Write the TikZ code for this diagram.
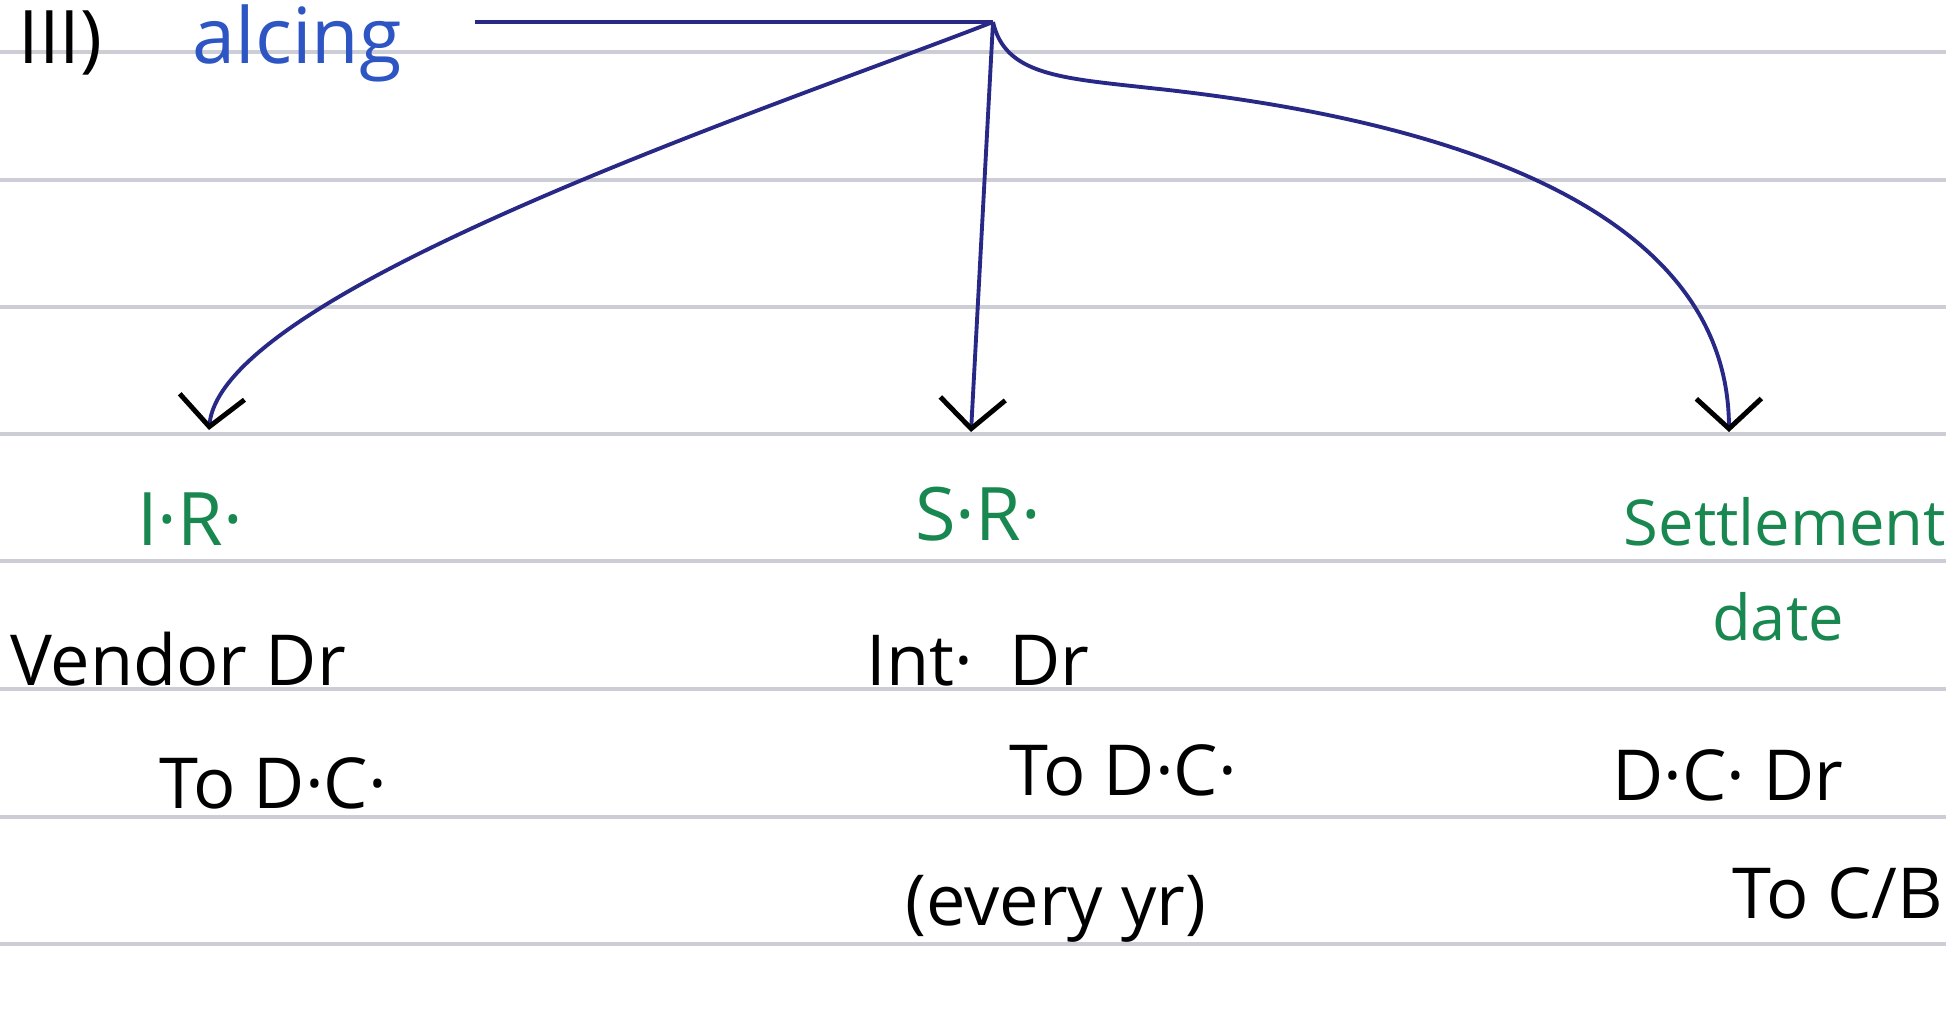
\documentclass[tikz,border=0pt]{standalone}
\usepackage{fontspec}
\setmainfont{Open Sans}
\usetikzlibrary{arrows.meta,positioning}
\definecolor{inknavy}{RGB}{40,40,135}
\definecolor{inkblue}{RGB}{45,85,195}
\definecolor{inkgreen}{RGB}{25,135,80}
\definecolor{ruling}{RGB}{205,205,214}

\begin{document}
\begin{tikzpicture}[x=0.01cm, y=-0.01cm,
    every node/.style={inner sep=0pt, anchor=base},
    case/.style={text=inkgreen, font=\fontsize{21}{25}\selectfont},
    entry/.style={text=black, font=\fontsize{20}{24}\selectfont},
    branch/.style={draw=inknavy, line width=1.1pt,
        -{Straight Barb[length=3mm, width=6.5mm, color=black, line width=1.4pt]}}]
    \useasboundingbox (0,0) rectangle (1946,1018);
    \clip (0,0) rectangle (1946,1018);
    % ruled paper
    \draw[ruling, line width=1.1pt] (0,52) -- (1946,52) (0,180) -- (1946,180)
        (0,307) -- (1946,307) (0,434) -- (1946,434) (0,561) -- (1946,561)
        (0,689) -- (1946,689) (0,817) -- (1946,817) (0,944) -- (1946,944);

    \node[anchor=base west, font=\fontsize{21}{25}\selectfont] (num) at (18,64) {III)};
    \node[anchor=base west, text=inkblue, font=\fontsize{22}{26}\selectfont] (title) at (192,64) {alcing};

    \coordinate (barstart) at (475,22);
    \coordinate (split) at (993,22);
    \coordinate (irtip) at (209,430);
    \coordinate (srtip) at (971,432);
    \coordinate (settip) at (1729,432);

    \node[case] (ir) at (190,545) {I·R·};
    \node[case] (sr) at (978,540) {S·R·};
    \node[case, font=\fontsize{18}{22}\selectfont] (settle) at (1785,545) {Settlement};
    \node[case, font=\fontsize{18}{22}\selectfont] (date) at (1778,640) {date};

    \node[entry] (vendor) at (178,685) {Vendor Dr};
    \node[entry] (irto) at (273,808) {To D·C·};
    \node[entry] (interest) at (978,685) {Int·~~Dr};
    \node[entry] (srto) at (1123,795) {To D·C·};
    \node[entry] (yearly) at (1056,925) {(every yr)};
    \node[entry] (dcdr) at (1728,800) {D·C· Dr};
    \node[entry] (setto) at (1838,918) {To C/B};

    \draw[inknavy, line width=1.1pt] (barstart) -- (split);
    \draw[branch] (split) .. controls (780,105) and (222,290) .. (irtip);
    \draw[branch] (split) -- (srtip);
    \draw[branch] (split) .. controls (1005,75) and (1060,78) .. (1150,88)
        .. controls (1500,125) and (1728,230) .. (settip);
\end{tikzpicture}
\end{document}
